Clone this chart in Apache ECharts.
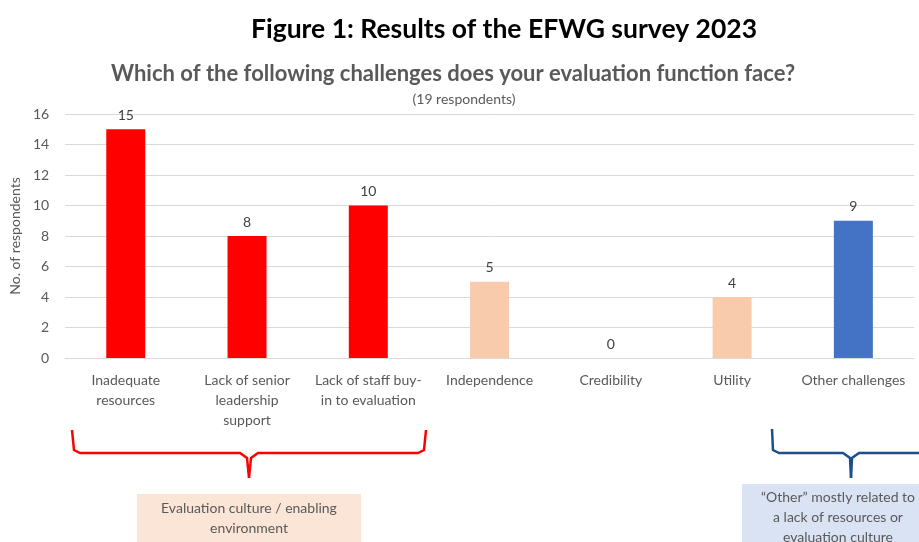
<!DOCTYPE html>
<html><head><meta charset="utf-8">
<script src="https://cdn.jsdelivr.net/npm/echarts@6/dist/echarts.min.js"></script>
<style>html,body{margin:0;padding:0;background:#fff}#c{width:919px;height:542px}</style>
</head><body><div id="c"></div>
<script>
var categories = ['Inadequate\nresources', 'Lack of senior\nleadership\nsupport', 'Lack of staff buy-\nin to evaluation', 'Independence', 'Credibility', 'Utility', 'Other challenges'];
var values = [15, 8, 10, 5, 0, 4, 9];
var barColors = ['#FF0000', '#FF0000', '#FF0000', '#F8CBAD', '#F8CBAD', '#F8CBAD', '#4472C4'];
var yTicks = [0, 2, 4, 6, 8, 10, 12, 14, 16];

var FONT = 'Lato, "Open Sans", sans-serif';
var chart = echarts.init(document.getElementById('c'), null, {renderer: 'canvas'});
chart.setOption({
  animation: false,
  textStyle: {fontFamily: FONT},
  title: [
    {text: 'Figure 1: Results of the EFWG survey 2023', left: 499, top: 11, textAlign: 'center',
     textStyle: {fontFamily: FONT, fontWeight: 'bold', fontSize: 26.5, color: '#000'}},
    {text: 'Which of the following challenges does your evaluation function face?', left: 448, top: 58, textAlign: 'center',
     textStyle: {fontFamily: FONT, fontWeight: 'bold', fontSize: 22, color: '#595959'}},
    {text: '(19 respondents)', left: 459, top: 87, textAlign: 'center',
     textStyle: {fontFamily: FONT, fontWeight: 'normal', fontSize: 14, color: '#595959'}}
  ],
  grid: {left: 62, right: 5, top: 114, bottom: 184, containLabel: false},
  xAxis: {
    type: 'category', data: categories,
    axisLine: {show: true, lineStyle: {color: '#D9D9D9'}},
    axisTick: {show: false},
    axisLabel: {color: '#595959', fontSize: 14, lineHeight: 20, margin: 12, interval: 0, fontFamily: FONT}
  },
  yAxis: {
    type: 'value', min: yTicks[0], max: yTicks[yTicks.length - 1], interval: 2,
    name: 'No. of respondents', nameLocation: 'middle', nameGap: 38, nameRotate: 90,
    nameTextStyle: {color: '#595959', fontSize: 14, fontFamily: FONT},
    axisLine: {show: false}, axisTick: {show: false},
    axisLabel: {color: '#595959', fontSize: 14, margin: 16, fontFamily: FONT},
    splitLine: {lineStyle: {color: '#D9D9D9'}}
  },
  series: [{
    type: 'bar', barWidth: 39,
    data: values.map(function (v, i) { return {value: v, itemStyle: {color: barColors[i]}}; }),
    label: {show: true, position: 'top', distance: 7, color: '#404040', fontSize: 14, fontFamily: FONT}
  }],
  graphic: [
    {type: 'polyline', shape: {points: [[72, 430], [74, 450], [80, 453], [240, 453], [247, 458], [249, 478]]}, style: {stroke: '#FF0000', lineWidth: 2.5, fill: null}},
    {type: 'polyline', shape: {points: [[426, 430], [424, 450], [418, 453], [258, 453], [251, 458], [249, 478]]}, style: {stroke: '#FF0000', lineWidth: 2.5, fill: null}},
    {type: 'polyline', shape: {points: [[772, 429], [773, 450], [779, 453], [843, 453], [850, 458], [851, 478]]}, style: {stroke: '#1F4E8C', lineWidth: 2.5, fill: null}},
    {type: 'polyline', shape: {points: [[930, 453], [859, 453], [852, 458], [851, 478]]}, style: {stroke: '#1F4E8C', lineWidth: 2.5, fill: null}},
    {type: 'rect', shape: {x: 137, y: 494, width: 224, height: 50}, style: {fill: '#FBE5D6'}},
    {type: 'text', style: {text: 'Evaluation culture / enabling\nenvironment', x: 249, y: 498, align: 'center', fill: '#595959', font: '14px ' + FONT, lineHeight: 20}},
    {type: 'rect', shape: {x: 742, y: 484, width: 190, height: 60}, style: {fill: '#DAE3F3'}},
    {type: 'text', style: {text: '\u201COther\u201D mostly related to\na lack of resources or\nevaluation culture', x: 838, y: 487, align: 'center', fill: '#595959', font: '14px ' + FONT, lineHeight: 20}}
  ]
});
</script></body></html>
